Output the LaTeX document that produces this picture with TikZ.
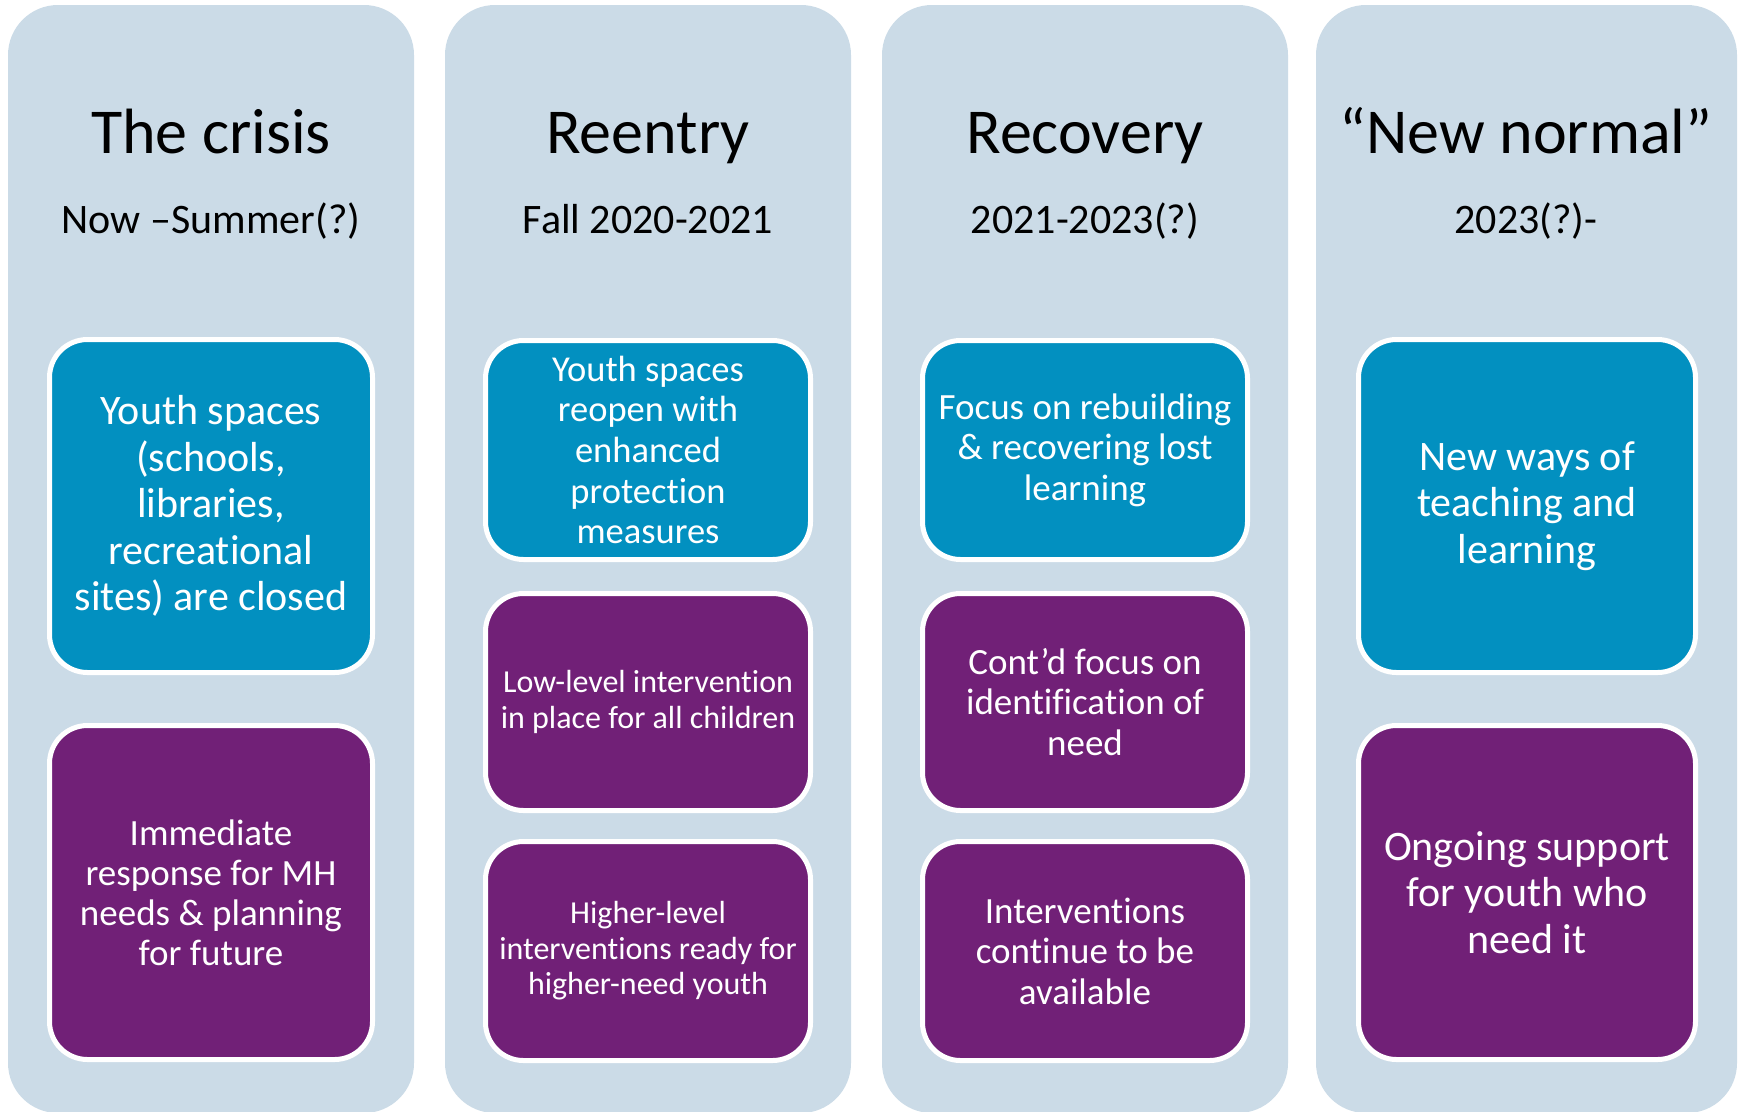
\documentclass[tikz,border=0pt]{standalone}
\usepackage{fontspec}
\setmainfont{Carlito}[Ligatures={NoCommon,TeX}]
\definecolor{colbg}{RGB}{203,219,231}
\definecolor{tealbox}{RGB}{2,144,192}
\definecolor{plumbox}{RGB}{113,32,119}
\newcommand{\fs}[2]{\fontsize{#1}{#2}\selectfont}
\begin{document}
\begin{tikzpicture}[x=1pt,y=-1pt,
  phase/.style={fill=colbg, rounded corners=50pt},
  card/.style={draw=white, line width=5pt, rounded corners=38pt, text=white,
    align=center, inner sep=0pt},
  bluecard/.style={card, fill=tealbox},
  plumcard/.style={card, fill=plumbox},
  title/.style={font=\fs{64}{70}, inner sep=0pt, anchor=base},
  period/.style={font=\fs{42}{46}, inner sep=0pt, anchor=base}]
\useasboundingbox (0,0) rectangle (1739,1111);
\begin{scope}
\clip (0,0) rectangle (1739,1111);
% phase columns
\fill[phase] (8,5) rectangle (414,1113);
\fill[phase] (445,5) rectangle (851,1113);
\fill[phase] (882,5) rectangle (1288,1113);
\fill[phase] (1316,5) rectangle (1737,1113);
\end{scope}

% headings
\node[title]  (t1) at (211,153) {The crisis};
\node[period] (p1) at (211,233) {Now –Summer(?)};
\node[title]  (t2) at (648,153) {Reentry};
\node[period] (p2) at (648,233) {Fall 2020-2021};
\node[title]  (t3) at (1085,153) {Recovery};
\node[period] (p3) at (1085,233) {2021-2023(?)};
\node[title]  (t4) at (1526,153) {“New normal”};
\node[period] (p4) at (1526,233) {2023(?)-};

% the crisis
\node[bluecard, minimum width=323pt, minimum height=333pt, font=\fs{42}{46.5}]
  (c1a) at (211,506) {Youth spaces\\(schools,\\libraries,\\recreational\\sites) are closed};
\node[plumcard, minimum width=323pt, minimum height=334pt, font=\fs{37}{40}]
  (c1b) at (211,892.5) {Immediate\\response for MH\\needs \& planning\\for future};

% reentry
\node[bluecard, minimum width=325pt, minimum height=219pt, font=\fs{36.5}{40.7}]
  (c2a) at (648,450) {Youth spaces\\reopen with\\enhanced\\protection\\measures};
\node[plumcard, minimum width=325pt, minimum height=217pt, font=\fs{32}{35.5}]
  (c2b) at (648,702) {Low-level intervention\\in place for all children};
\node[plumcard, minimum width=325pt, minimum height=219pt, font=\fs{32}{35.5}]
  (c2c) at (648,951) {Higher-level\\interventions ready for\\higher-need youth};

% recovery
\node[bluecard, minimum width=325pt, minimum height=219pt, font=\fs{37}{40.5}]
  (c3a) at (1085,450) {Focus on rebuilding\\\& recovering lost\\learning};
\node[plumcard, minimum width=325pt, minimum height=217pt, font=\fs{37}{40.5}]
  (c3b) at (1085,702) {Cont’d focus on\\identification of\\need};
\node[plumcard, minimum width=325pt, minimum height=219pt, font=\fs{37}{40.5}]
  (c3c) at (1085,951) {Interventions\\continue to be\\available};

% new normal
\node[bluecard, minimum width=337pt, minimum height=333pt, font=\fs{42}{46.5}]
  (c4a) at (1527,506) {New ways of\\teaching and\\learning};
\node[plumcard, minimum width=337pt, minimum height=334pt, font=\fs{42}{46.5}]
  (c4b) at (1527,892.5) {Ongoing support\\for youth who\\need it};
\end{tikzpicture}
\end{document}
